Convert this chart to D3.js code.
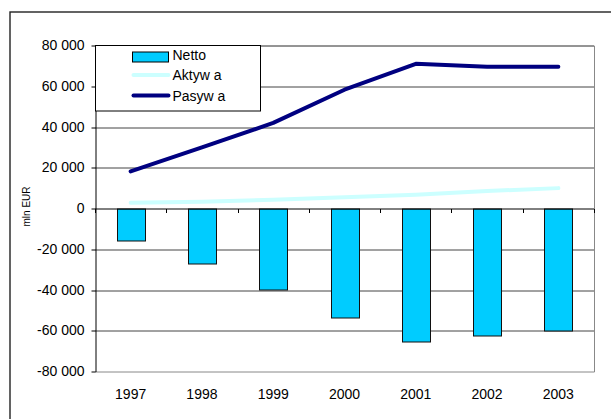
<!DOCTYPE html>
<meta charset="utf-8">
<script src="https://d3js.org/d3.v7.min.js"></script>
<style>
  body { margin: 0; background: #fff; }
  text { font-family: "Liberation Sans", Arial, sans-serif; }
</style>
<div id="chart"></div>
<script>
    // data
    const years = ["1997", "1998", "1999", "2000", "2001", "2002", "2003"];
    const netto = [-15700, -27200, -39800, -53500, -65200, -62300, -60000];
    const aktywa = [2800, 3300, 4300, 5500, 6800, 8600, 10000];
    const pasywa = [18200, 30000, 42000, 58300, 71000, 69600, 69600];
    const yTicks = [-80000, -60000, -40000, -20000, 0, 20000, 40000, 60000, 80000];
    const legNames = ["Netto", "Aktyw a", "Pasyw a"];

    const W = 611, H = 419;
    const margin = {top: 45.5, right: 17, left: 95};
    const width = W - margin.left - margin.right,
        height = 371.5 - margin.top;

    const svg = d3.select("#chart")
        .append("svg")
        .attr("width", W)
        .attr("height", H);

    // outer frame (runs off the right and bottom edges)
    svg.append("rect")
        .attr("x", 10).attr("y", 12)
        .attr("width", 620).attr("height", 420)
        .attr("fill", "none").attr("stroke", "#222").attr("stroke-width", 1.4);

    const g = svg.append("g")
        .attr("transform", `translate(${margin.left},${margin.top})`);

    const x = d3.scaleBand().domain(years).range([0, width]);
    const y = d3.scaleLinear().domain([-80000, 80000]).range([height, 0]);
    const py = v => Math.round(y(v)) + 0.5;

    const fmt = v => d3.format(",")(v).replace(/,/g, " ").replace("−", "-");

    // gridlines
    g.selectAll(".grid")
        .data(yTicks.filter(d => d !== 0 && d !== -80000))
        .join("line")
        .attr("x1", 0).attr("x2", width)
        .attr("y1", py).attr("y2", py)
        .attr("stroke", "#444").attr("stroke-width", 1);

    // plot area border (right + bottom)
    g.append("path")
        .attr("d", `M0,${py(-80000)}H${width + 0.5}V${py(80000)}H0`)
        .attr("fill", "none")
        .attr("stroke", "#888");

    // y axis
    const yAxis = g.append("g")
        .attr("transform", "translate(0.5,0)")
        .call(d3.axisLeft(y).tickValues(yTicks).tickSize(4).tickSizeOuter(0).tickFormat(fmt));
    yAxis.select(".domain").attr("stroke", "#000");
    yAxis.selectAll(".tick").attr("transform", d => `translate(0,${py(d)})`);
    yAxis.selectAll("text")
        .attr("font-size", 14)
        .attr("font-family", "Liberation Sans, Arial, sans-serif")
        .attr("x", -11)
        .attr("fill", "#000");

    // bars
    const barW = 28;
    g.selectAll(".bar")
        .data(netto)
        .join("rect")
        .attr("x", (d, i) => Math.round(x(years[i]) + x.bandwidth() / 2 - barW / 2) + 0.5)
        .attr("y", d => py(Math.max(0, d)))
        .attr("width", barW)
        .attr("height", d => Math.round(Math.abs(y(d) - y(0))))
        .attr("fill", "#00CCFF")
        .attr("stroke", "#111")
        .attr("stroke-width", 1);

    // category axis on zero line
    const xAxis = g.append("g")
        .attr("transform", `translate(0,${py(0)})`);
    xAxis.append("line")
        .attr("x1", 0).attr("x2", width)
        .attr("stroke", "#000");
    xAxis.selectAll(".xt")
        .data(d3.range(years.length + 1))
        .join("line")
        .attr("x1", i => Math.round(i * x.step()) + 0.5)
        .attr("x2", i => Math.round(i * x.step()) + 0.5)
        .attr("y1", 0).attr("y2", 4)
        .attr("stroke", "#000");

    // year labels at bottom
    g.selectAll(".yr")
        .data(years)
        .join("text")
        .attr("x", d => x(d) + x.bandwidth() / 2)
        .attr("y", height + 27)
        .attr("text-anchor", "middle")
        .attr("font-size", 14)
        .text(d => d);

    // lines
    const line = d3.line()
        .x((d, i) => x(years[i]) + x.bandwidth() / 2)
        .y(d => y(d));

    g.append("path")
        .datum(aktywa)
        .attr("d", line)
        .attr("fill", "none")
        .attr("stroke", "#CCFFFF")
        .attr("stroke-width", 4)
        .attr("stroke-linecap", "round");

    g.append("path")
        .datum(pasywa)
        .attr("d", line)
        .attr("fill", "none")
        .attr("stroke", "#000080")
        .attr("stroke-width", 4)
        .attr("stroke-linecap", "round")
        .attr("stroke-linejoin", "round");

    // y axis title
    svg.append("text")
        .attr("transform", `translate(30,${margin.top + y(0) - 2}) rotate(-90)`)
        .attr("text-anchor", "middle")
        .attr("font-size", 10)
        .text("mln EUR");

    // legend
    const leg = svg.append("g").attr("transform", `translate(${margin.left + 0.5},${margin.top})`);
    leg.append("rect")
        .attr("width", 165).attr("height", 65.5)
        .attr("fill", "#fff").attr("stroke", "#000");
    leg.append("rect")
        .attr("x", 37).attr("y", 6.5).attr("width", 36).attr("height", 10)
        .attr("fill", "#00CCFF").attr("stroke", "#000");
    leg.append("line")
        .attr("x1", 38).attr("x2", 73).attr("y1", 29.5).attr("y2", 29.5)
        .attr("stroke", "#CCFFFF").attr("stroke-width", 4).attr("stroke-linecap", "round");
    leg.append("line")
        .attr("x1", 38).attr("x2", 73).attr("y1", 50).attr("y2", 50)
        .attr("stroke", "#000080").attr("stroke-width", 4).attr("stroke-linecap", "round");
    leg.selectAll(".lt")
        .data(legNames)
        .join("text")
        .attr("x", 77)
        .attr("y", (d, i) => 14 + i * 20.7)
        .attr("font-size", 14)
        .text(d => d);
</script>
